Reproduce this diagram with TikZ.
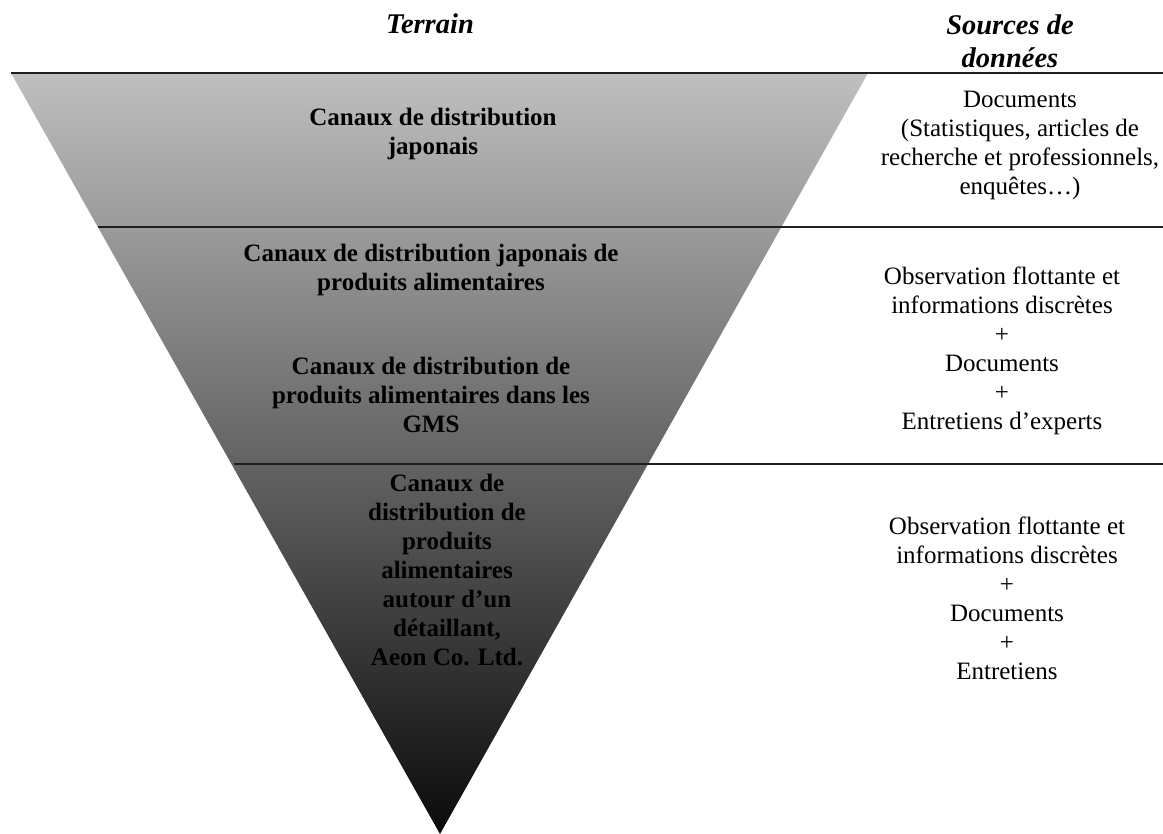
\documentclass[tikz,border=0pt]{standalone}
\usepackage{fontspec}
\setmainfont{Liberation Serif}
\definecolor{shadetop}{gray}{0.75}
\definecolor{shademid}{gray}{0.55}
\definecolor{shadebot}{gray}{0.04}
\definecolor{ruleink}{gray}{0.12}
\tikzset{
  rule/.style={draw=ruleink, line width=0.75pt},
  head/.style={font=\fontsize{14.25}{16.5}\selectfont\bfseries\itshape, align=center, inner sep=0pt},
  level/.style={font=\fontsize{12.5}{14.5}\selectfont\bfseries, align=center, inner sep=0pt},
  source/.style={font=\fontsize{12.5}{14.5}\selectfont, align=center, inner sep=0pt},
}

\begin{document}
\begin{tikzpicture}[x=0.5pt, y=-0.5pt]
\useasboundingbox (0, 0) rectangle (1163, 834);
\path (11, 73) coordinate (tl) (868, 73) coordinate (tr) (440, 834) coordinate (apex);
\shade [top color=shadetop, middle color=shademid, bottom color=shadebot] (tl) -- (tr) -- (apex) -- cycle;
% rules across the funnel and the sources column
\draw [rule] (tl) -- (1163, 73);
\draw [rule] (98, 227) coordinate (cut1) -- (1163, 227);
\draw [rule] (234, 464) coordinate (cut2) -- (1163, 464);
% headings
\node [head] (terrain) at (430, 24) {Terrain};
\node [head] (sources) at (1010, 41) {Sources de\\donn\'ees};
% levels of the funnel
\node [level] (lvl1) at (433, 134) {Canaux de distribution\\japonais};
\node [level] (lvl2a) at (431, 270) {Canaux de distribution japonais de\\produits alimentaires};
\node [level] (lvl2b) at (431, 395) {Canaux de distribution de\\produits alimentaires dans les\\GMS};
\node [level] (lvl3) at (447, 570) {Canaux de\\distribution de\\produits\\alimentaires\\autour d’un\\détaillant,\\Aeon Co. Ltd.};
% data sources
\node [source] (src1) at (1020, 145) {Documents\\(Statistiques, articles de\\recherche et professionnels,\\enquêtes…)};
\node [source] (src2) at (1002, 351) {Observation flottante et\\informations discrètes\\+\\Documents\\+\\Entretiens d’experts};
\node [source] (src3) at (1007, 598) {Observation flottante et\\informations discrètes\\+\\Documents\\+\\Entretiens};
\end{tikzpicture}
\end{document}
